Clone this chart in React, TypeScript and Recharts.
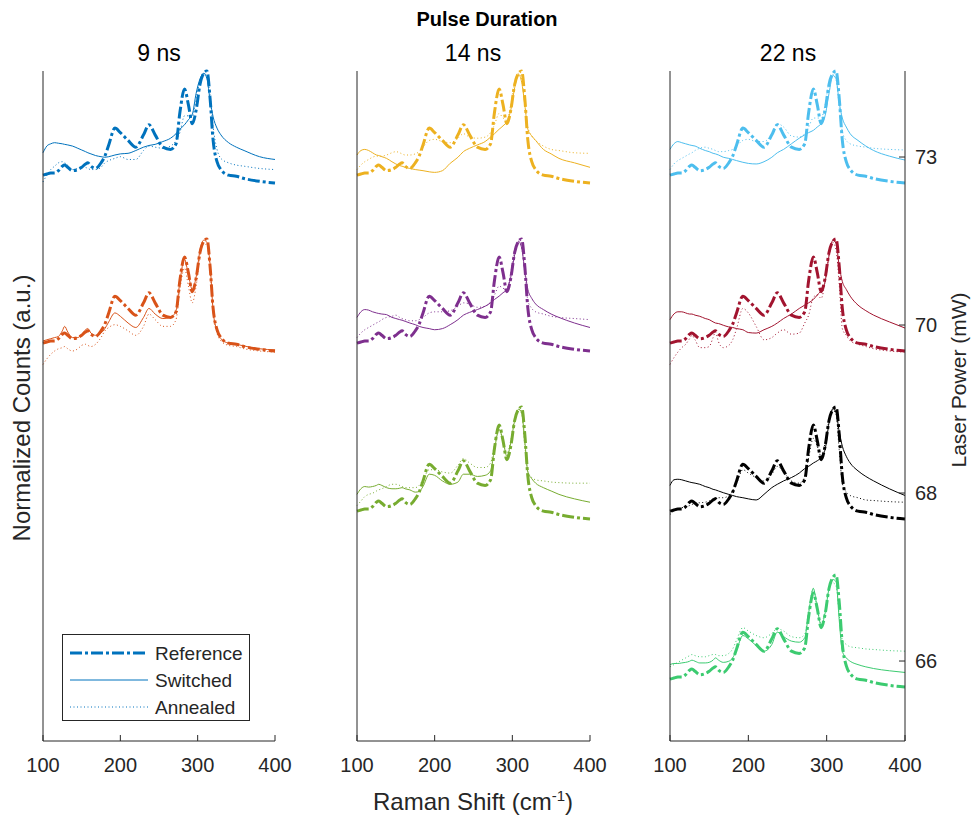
import { LineChart, Line, XAxis, YAxis } from 'recharts';

// Raman shift sampling (cm^-1)
const ramanShift = [
  100, 105, 110, 115, 120, 125, 128, 132, 138, 145,
  150, 155, 158, 162, 168, 175, 180, 185, 193, 200,
  210, 220, 230, 237, 245, 255, 265, 272, 277, 283,
  288, 293, 298, 303, 308, 312, 316, 320, 325, 330,
  340, 350, 360, 380, 400,
];

// reference spectrum, same in every row
const reference = [
  .07, .08, .09, .09, .11, .15, .16, .14, .11, .12,
  .14, .17, .18, .15, .13, .18, .24, .34, .49, .45,
  .38, .32, .43, .52, .43, .32, .30, .35, .63, .84,
  .70, .53, .65, .88, .98, 1.0, .76, .38, .19, .12,
  .07, .06, .04, .015, 0,
];

// 9 ns
const switched9ns73 = [
  .27, .33, .35, .36, .355, .35, .345, .34, .33, .31,
  .295, .28, .27, .26, .245, .235, .23, .235, .25, .26,
  .265, .29, .32, .335, .345, .37, .40, .44, .48, .52,
  .565, .61, .80, .93, .98, .93, .74, .59, .49, .43,
  .36, .32, .29, .235, .21,
];
const annealed9ns73 = [
  .01, .07, .12, .15, .18, .19, .18, .16, .12, .13,
  .15, .14, .13, .12, .12, .14, .18, .20, .22, .235,
  .21, .21, .29, .33, .32, .31, .33, .38, .45, .60,
  .60, .59, .75, .92, .98, .95, .78, .50, .30, .22,
  .18, .16, .15, .13, .12,
];
const switched9ns70 = [
  .09, .10, .11, .12, .13, .18, .22, .17, .12, .12,
  .15, .19, .20, .16, .14, .16, .20, .26, .34, .31,
  .25, .21, .30, .38, .33, .29, .30, .36, .62, .82,
  .68, .55, .66, .90, .99, .97, .78, .36, .18, .11,
  .07, .06, .045, .02, .01,
];
const annealed9ns70 = [
  -.12, -.07, -.03, .00, .02, .03, .04, .02, .00, .02,
  .05, .06, .05, .04, .06, .12, .18, .21, .235, .22,
  .18, .14, .22, .33, .28, .22, .22, .28, .55, .74,
  .58, .43, .58, .85, .96, .94, .74, .35, .16, .09,
  .05, .04, .02, .00, -.01,
];

// 14 ns
const switched14ns73 = [
  .25, .29, .30, .29, .27, .25, .245, .235, .22, .19,
  .17, .155, .15, .14, .13, .12, .115, .11, .10, .095,
  .11, .176, .23, .28, .31, .34, .37, .41, .44, .48,
  .51, .55, .65, .85, .97, .90, .70, .48, .42, .38,
  .30, .26, .22, .18, .14,
];
const annealed14ns73 = [
  .12, .16, .19, .21, .23, .24, .24, .24, .25, .27,
  .28, .27, .26, .25, .25, .26, .28, .32, .38, .39,
  .37, .36, .40, .44, .41, .40, .41, .45, .52, .62,
  .58, .56, .70, .90, .98, .92, .72, .50, .42, .38,
  .33, .30, .29, .27, .265,
];
const switched14ns70 = [
  .30, .35, .37, .365, .35, .34, .335, .33, .325, .30,
  .29, .28, .275, .265, .25, .235, .22, .21, .20, .19,
  .20, .235, .28, .32, .345, .37, .40, .43, .46, .49,
  .52, .55, .66, .86, .98, .92, .72, .55, .47, .42,
  .37, .33, .30, .25, .21,
];
const annealed14ns70 = [
  .12, .16, .19, .21, .23, .25, .26, .28, .30, .31,
  .32, .30, .29, .28, .27, .27, .28, .30, .34, .35,
  .35, .36, .40, .43, .42, .39, .40, .44, .50, .58,
  .56, .55, .70, .90, .97, .92, .70, .45, .38, .35,
  .33, .31, .30, .29, .28,
];
const switched14ns68 = [
  .22, .27, .29, .285, .29, .30, .31, .30, .28, .27,
  .27, .275, .28, .27, .26, .24, .245, .29, .40, .39,
  .34, .31, .33, .40, .40, .38, .39, .43, .62, .80,
  .70, .56, .68, .88, .98, .95, .70, .42, .36, .32,
  .28, .25, .22, .18, .15,
];
const annealed14ns68 = [
  .12, .16, .20, .22, .23, .25, .26, .27, .29, .31,
  .31, .30, .29, .28, .28, .28, .30, .35, .44, .44,
  .42, .41, .48, .54, .50, .46, .46, .50, .66, .82,
  .68, .59, .70, .90, .98, .94, .66, .42, .37, .35,
  .34, .33, .325, .32, .32,
];

// 22 ns
const switched22ns73 = [
  .30, .35, .37, .36, .35, .34, .335, .33, .31, .29,
  .28, .265, .26, .25, .23, .22, .21, .20, .185, .175,
  .17, .19, .23, .27, .30, .35, .40, .43, .45, .47,
  .50, .53, .60, .80, .96, .93, .72, .58, .50, .44,
  .38, .33, .29, .24, .205,
];
const annealed22ns73 = [
  .12, .17, .20, .22, .24, .26, .27, .29, .31, .32,
  .31, .30, .29, .28, .28, .29, .30, .33, .38, .39,
  .37, .37, .44, .53, .50, .42, .41, .44, .50, .58,
  .58, .58, .70, .90, .97, .92, .68, .46, .38, .35,
  .33, .32, .31, .30, .295,
];
const switched22ns70 = [
  .28, .33, .35, .35, .34, .33, .33, .32, .31, .29,
  .28, .26, .25, .245, .23, .215, .21, .20, .19, .165,
  .16, .19, .22, .25, .29, .33, .38, .41, .43, .46,
  .50, .54, .62, .85, .99, .96, .76, .62, .55, .49,
  .41, .36, .32, .26, .205,
];
const annealed22ns70 = [
  -.12, -.06, -.01, .03, .06, .11, .14, .10, .03, .03,
  .04, .12, .17, .08, .03, .05, .10, .20, .38, .34,
  .22, .10, .12, .16, .19, .15, .16, .25, .32, .48,
  .50, .47, .62, .86, .97, .90, .60, .20, .14, .09,
  .06, .04, .02, .00, -.01,
];
const switched22ns68 = [
  .30, .35, .355, .35, .34, .33, .325, .32, .31, .29,
  .28, .265, .26, .25, .235, .22, .21, .20, .19, .18,
  .17, .22, .28, .31, .34, .37, .41, .45, .47, .50,
  .52, .55, .62, .86, .985, .95, .78, .65, .56, .50,
  .43, .38, .34, .27, .21,
];
const annealed22ns68 = [
  .04, .07, .09, .10, .11, .12, .13, .14, .145, .15,
  .16, .18, .19, .19, .19, .21, .25, .32, .44, .41,
  .37, .34, .40, .47, .42, .34, .32, .38, .55, .72,
  .65, .56, .68, .88, .97, .93, .62, .32, .24, .21,
  .19, .17, .165, .155, .15,
];
const switched22ns66 = [
  .20, .21, .21, .215, .22, .23, .24, .23, .215, .215,
  .22, .24, .26, .24, .22, .23, .26, .33, .46, .43,
  .37, .32, .38, .49, .45, .41, .40, .44, .66, .88,
  .70, .55, .66, .88, .96, .94, .60, .32, .26, .23,
  .20, .18, .165, .145, .13,
];
const annealed22ns66 = [
  .18, .20, .22, .24, .26, .28, .29, .28, .27, .27,
  .28, .29, .29, .28, .28, .30, .34, .42, .53, .50,
  .46, .44, .48, .52, .50, .45, .44, .47, .68, .88,
  .70, .57, .68, .88, .93, .90, .65, .42, .38, .36,
  .35, .34, .335, .325, .32,
];

const laserPowers = [66, 68, 70, 73];
const pulseDurations = ['9 ns', '14 ns', '22 ns'];
const rowStep = 1.5;
const tickShift = 0.232;

const AXIS = '#262626';
const FONT = '"Liberation Sans", Arial, Helvetica, sans-serif';

type Row = { power: number; color: string; switched: number[]; annealed: number[] };

const panels: Row[][] = [
  [
    { power: 73, color: '#0072BD', switched: switched9ns73, annealed: annealed9ns73 },
    { power: 70, color: '#D95319', switched: switched9ns70, annealed: annealed9ns70 },
  ],
  [
    { power: 73, color: '#EDB120', switched: switched14ns73, annealed: annealed14ns73 },
    { power: 70, color: '#7E2F8E', switched: switched14ns70, annealed: annealed14ns70 },
    { power: 68, color: '#77AC30', switched: switched14ns68, annealed: annealed14ns68 },
  ],
  [
    { power: 73, color: '#4DBEEE', switched: switched22ns73, annealed: annealed22ns73 },
    { power: 70, color: '#A2142F', switched: switched22ns70, annealed: annealed22ns70 },
    { power: 68, color: '#000000', switched: switched22ns68, annealed: annealed22ns68 },
    { power: 66, color: '#3CCB70', switched: switched22ns66, annealed: annealed22ns66 },
  ],
];

const offsetOf = (power: number) => laserPowers.indexOf(power) * rowStep;
const toSeries = (values: number[], offset: number) =>
  ramanShift.map((x, i) => ({ x, y: values[i] + offset }));

const XTick = (props: any) => {
  const { x, y, payload } = props;
  return (
    <g>
      <line x1={x} x2={x} y1={y} y2={y - 6} stroke={AXIS} />
      <text x={x} y={y + 31} textAnchor="middle" fontSize={20} fill={AXIS} fontFamily={FONT}>
        {payload.value}
      </text>
    </g>
  );
};

const RightTick = (props: any) => {
  const { x, y, payload } = props;
  const label = laserPowers[Math.round((payload.value - tickShift) / rowStep)];
  return (
    <g>
      <line x1={x - 6} x2={x} y1={y} y2={y} stroke={AXIS} />
      <text x={x + 10} y={y + 7} textAnchor="start" fontSize={20} fill={AXIS} fontFamily={FONT}>
        {label}
      </text>
    </g>
  );
};

// plot boxes: 43-275, 357-590, 670-905 px; y 71-741 px
const layouts = [
  { left: 0, width: 300, ml: 42, mr: 25 },
  { left: 320, width: 300, ml: 36, mr: 30 },
  { left: 640, width: 334, ml: 29, mr: 68 },
];

function Panel({ rows, index }: { rows: Row[]; index: number }) {
  const lay = layouts[index];
  const right = index === 2;
  // lines go on the right axis in the last panel so its ticks get a scale
  const yId = right ? 'r' : 'l';
  return (
    <div style={{ position: 'absolute', left: lay.left, top: 0 }}>
      <LineChart
        width={lay.width}
        height={820}
        margin={{ top: 71, bottom: 78, left: lay.ml, right: lay.mr }}
      >
        <XAxis
          type="number"
          dataKey="x"
          domain={[100, 400]}
          ticks={[100, 200, 300, 400]}
          interval={0}
          height={1}
          tickSize={0}
          tickMargin={0}
          tickLine={false}
          axisLine={{ stroke: AXIS }}
          tick={(p: any) => <XTick {...p} />}
        />
        <YAxis
          yAxisId="l"
          type="number"
          domain={[-0.482, 5.5]}
          width={1}
          tick={false}
          tickLine={false}
          axisLine={{ stroke: AXIS }}
        />
        {right && (
          <YAxis
            yAxisId="r"
            orientation="right"
            type="number"
            domain={[-0.482, 5.5]}
            ticks={laserPowers.map((_, i) => i * rowStep + tickShift)}
            interval={0}
            width={1}
            tickSize={0}
            tickMargin={0}
            tickLine={false}
            axisLine={{ stroke: AXIS }}
            tick={(p: any) => <RightTick {...p} />}
          />
        )}
        {rows.map((r) => {
          const off = offsetOf(r.power);
          return [
            <Line
              key={`ref-${r.power}`}
              yAxisId={yId}
              data={toSeries(reference, off)}
              dataKey="y"
              type="monotone"
              stroke={r.color}
              strokeWidth={3}
              strokeDasharray="12 3 3 3"
              dot={false}
              isAnimationActive={false}
            />,
            <Line
              key={`sw-${r.power}`}
              yAxisId={yId}
              data={toSeries(r.switched, off)}
              dataKey="y"
              type="monotone"
              stroke={r.color}
              strokeWidth={1}
              dot={false}
              isAnimationActive={false}
            />,
            <Line
              key={`an-${r.power}`}
              yAxisId={yId}
              data={toSeries(r.annealed, off)}
              dataKey="y"
              type="monotone"
              stroke={r.color}
              strokeWidth={1}
              strokeDasharray="1 2.5"
              dot={false}
              isAnimationActive={false}
            />,
          ];
        })}
      </LineChart>
    </div>
  );
}

const textBase: React.CSSProperties = {
  position: 'absolute',
  fontFamily: FONT,
  color: AXIS,
  whiteSpace: 'nowrap',
  lineHeight: 1,
};

export default function App() {
  const subX = [159, 473, 788];
  return (
    <div style={{ position: 'absolute', left: 0, top: 0, width: 974, height: 820, background: '#fff', overflow: 'hidden' }}>
      {panels.map((rows, i) => (
        <Panel key={i} rows={rows} index={i} />
      ))}

      <div style={{ ...textBase, left: 487, top: 19, transform: 'translate(-50%, -50%)', fontSize: 20, fontWeight: 'bold', color: '#000' }}>
        Pulse Duration
      </div>
      {pulseDurations.map((t, i) => (
        <div key={t} style={{ ...textBase, left: subX[i], top: 53, transform: 'translate(-50%, -50%)', fontSize: 23, color: '#000' }}>
          {t}
        </div>
      ))}
      <div style={{ ...textBase, left: 473, top: 801, transform: 'translate(-50%, -50%)', fontSize: 24 }}>
        Raman Shift (cm<sup style={{ fontSize: 15 }}>-1</sup>)
      </div>
      <div style={{ ...textBase, left: 22, top: 408, transform: 'translate(-50%, -50%) rotate(-90deg)', fontSize: 24 }}>
        Normalized Counts (a.u.)
      </div>
      <div style={{ ...textBase, left: 958, top: 380, transform: 'translate(-50%, -50%) rotate(-90deg)', fontSize: 21 }}>
        Laser Power (mW)
      </div>

      <svg
        width={188}
        height={87}
        style={{ position: 'absolute', left: 62, top: 634 }}
      >
        <rect x={0.5} y={0.5} width={187} height={86} fill="#fff" stroke={AXIS} />
        {[
          { label: 'Reference', w: 3, dash: '12 3 3 3' },
          { label: 'Switched', w: 1, dash: undefined },
          { label: 'Annealed', w: 1, dash: '1 2.5' },
        ].map((e, i) => (
          <g key={e.label}>
            <line x1={8} x2={86} y1={19 + i * 27} y2={19 + i * 27} stroke="#0072BD" strokeWidth={e.w} strokeDasharray={e.dash} />
            <text x={93} y={26 + i * 27} fontSize={19} fill={AXIS} fontFamily={FONT}>
              {e.label}
            </text>
          </g>
        ))}
      </svg>
    </div>
  );
}
